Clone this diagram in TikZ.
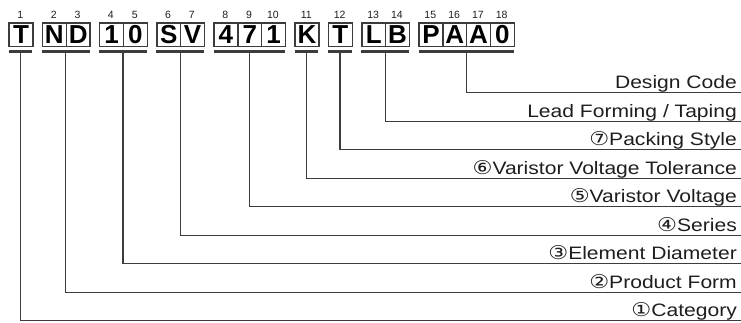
\documentclass[tikz,border=0pt]{standalone}
\usepackage{fontspec}
\setmainfont{Liberation Sans}
\newfontfamily\circfont{DejaVu Sans}
\definecolor{ink}{HTML}{1E1E1E}
\definecolor{rule}{HTML}{3C3C3C}
\tikzset{
  cellbox/.style={draw=rule, line width=1.3pt, minimum width=23.8pt, minimum height=23.4pt,
    inner sep=0pt, anchor=north west, text=black, font=\fontsize{26}{26}\selectfont\bfseries},
  numlbl/.style={anchor=base, inner sep=0pt, text=ink, font=\fontsize{10.5}{10.5}\selectfont},
  grpbar/.style={fill=rule, draw=none, minimum height=2.4pt, inner sep=0pt, anchor=north west},
  conn/.style={draw=rule, line width=1.3pt},
  desc/.style={anchor=base east, inner sep=0pt, text=ink, font=\fontsize{18}{18}\selectfont},
}
\newcommand{\cnum}[1]{{\circfont\fontsize{19}{19}\selectfont #1}}
\newcommand{\wide}[1]{\scalebox{1.17}[1]{#1}}
\begin{document}
\begin{tikzpicture}[x=1pt,y=-1pt]
\useasboundingbox (0,0) rectangle (741,322);
% cells
\foreach \k/\xx/\ch in {1/8.4/T,2/41.8/N,3/65.6/D,4/99.0/1,5/122.8/0,6/156.2/S,7/180.0/V,
  8/213.4/4,9/237.2/7,10/261.0/1,11/294.4/K,12/327.8/T,13/361.2/L,14/385.0/B,
  15/418.4/P,16/442.2/A,17/466.0/A,18/489.8/0}{
  \node[cellbox] (c\k) at (\xx,22.3) {\ch};
  \node[numlbl] (n\k) at (\xx+11.9,18.5) {\k};
}
% group bars
\foreach \g/\xx/\ww in {1/8.4/23.8,2/41.8/47.6,3/99.0/47.6,4/156.2/47.6,5/213.4/71.4,
  6/294.4/23.8,7/327.8/23.8,8/361.2/47.6,9/418.4/95.2}{
  \node[grpbar, minimum width=\ww pt] (b\g) at (\xx,50.0) {};
}
% line end coordinates
\foreach \g/\yy in {9/92.7,8/121.2,7/149.7,6/178.2,5/206.7,4/235.2,3/263.7,2/292.2,1/320.7}{
  \coordinate (e\g) at (741,\yy);
}
% descriptions
\node[desc] (d9) at (737,88.7) {\wide{Design Code}};
\node[desc] (d8) at (737,117.2) {\wide{Lead Forming / Taping}};
\node[desc] (d7) at (737,145.7) {\wide{\cnum{⑦}Packing Style}};
\node[desc] (d6) at (737,174.2) {\wide{\cnum{⑥}Varistor Voltage Tolerance}};
\node[desc] (d5) at (737,202.7) {\wide{\cnum{⑤}Varistor Voltage}};
\node[desc] (d4) at (737,231.2) {\wide{\cnum{④}Series}};
\node[desc] (d3) at (737,259.7) {\wide{\cnum{③}Element Diameter}};
\node[desc] (d2) at (737,288.2) {\wide{\cnum{②}Product Form}};
\node[desc] (d1) at (737,316.7) {\wide{\cnum{①}Category}};
% connectors
\foreach \g in {1,...,9}{
  \draw[conn] (b\g.south) |- (e\g);
}
\end{tikzpicture}
\end{document}
